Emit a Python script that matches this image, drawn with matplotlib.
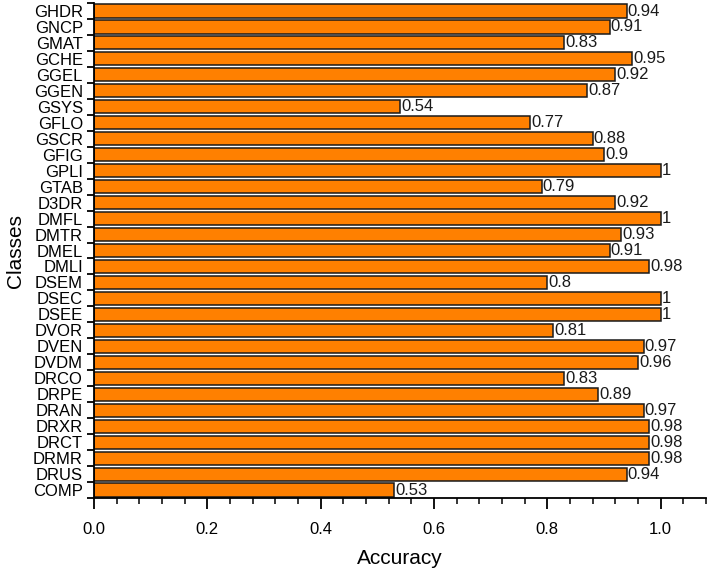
import matplotlib
matplotlib.use("Agg")
import matplotlib.pyplot as plt
import numpy as np

plt.rcParams['font.family'] = ['Liberation Sans', 'DejaVu Sans']

classes = ["GHDR", "GNCP", "GMAT", "GCHE", "GGEL", "GGEN", "GSYS", "GFLO", "GSCR",
           "GFIG", "GPLI", "GTAB", "D3DR", "DMFL", "DMTR", "DMEL", "DMLI", "DSEM",
           "DSEC", "DSEE", "DVOR", "DVEN", "DVDM", "DRCO", "DRPE", "DRAN", "DRXR",
           "DRCT", "DRMR", "DRUS", "COMP"]
accuracy = [0.94, 0.91, 0.83, 0.95, 0.92, 0.87, 0.54, 0.77, 0.88,
            0.9, 1, 0.79, 0.92, 1, 0.93, 0.91, 0.98, 0.8,
            1, 1, 0.81, 0.97, 0.96, 0.83, 0.89, 0.97, 0.98,
            0.98, 0.98, 0.94, 0.53]
value_labels = ["0.94", "0.91", "0.83", "0.95", "0.92", "0.87", "0.54", "0.77", "0.88",
                "0.9", "1", "0.79", "0.92", "1", "0.93", "0.91", "0.98", "0.8",
                "1", "1", "0.81", "0.97", "0.96", "0.83", "0.89", "0.97", "0.98",
                "0.98", "0.98", "0.94", "0.53"]

fig = plt.figure(figsize=(7.08, 5.70), dpi=100)
ax = fig.add_axes([0.1328, 0.1263, 0.8642, 0.8684])

n = len(classes)
y = np.arange(n)[::-1]
ax.barh(y, accuracy, height=0.82, color='#FF8000', edgecolor='#1a1a1a', linewidth=1.1)

for yi, v, lab in zip(y, accuracy, value_labels):
    ax.text(v + 0.002, yi, lab, va='center', ha='left', fontsize=12, color='#1a1a1a')

ax.set_ylim(-0.5, n - 0.5)
ax.set_xlim(0, 1.08)

# y: boundary ticks (major), labels at centers (minor)
ax.set_yticks(np.arange(-0.5, n, 1.0))
ax.set_yticklabels([])
ax.set_yticks(y, minor=True)
ax.set_yticklabels(classes, minor=True, fontsize=12)
ax.tick_params(axis='y', which='major', direction='out', length=5, width=1.3)
ax.tick_params(axis='y', which='minor', length=0, pad=8)

ax.set_xticks([0.0, 0.2, 0.4, 0.6, 0.8, 1.0])
ax.set_xticklabels(["0.0", "0.2", "0.4", "0.6", "0.8", "1.0"], fontsize=12)
ax.set_xticks(np.arange(0, 1.081, 0.04), minor=True)
ax.tick_params(axis='x', which='major', direction='out', length=8, width=1.3, pad=9)
ax.tick_params(axis='x', which='minor', direction='out', length=4, width=1.1)

for s in ['top', 'right']:
    ax.spines[s].set_visible(False)
for s in ['left', 'bottom']:
    ax.spines[s].set_linewidth(1.3)

ax.set_xlabel("Accuracy", fontsize=15, labelpad=9)
ax.set_ylabel("Classes", fontsize=15, labelpad=6)

fig.savefig("out.png", dpi=100)
